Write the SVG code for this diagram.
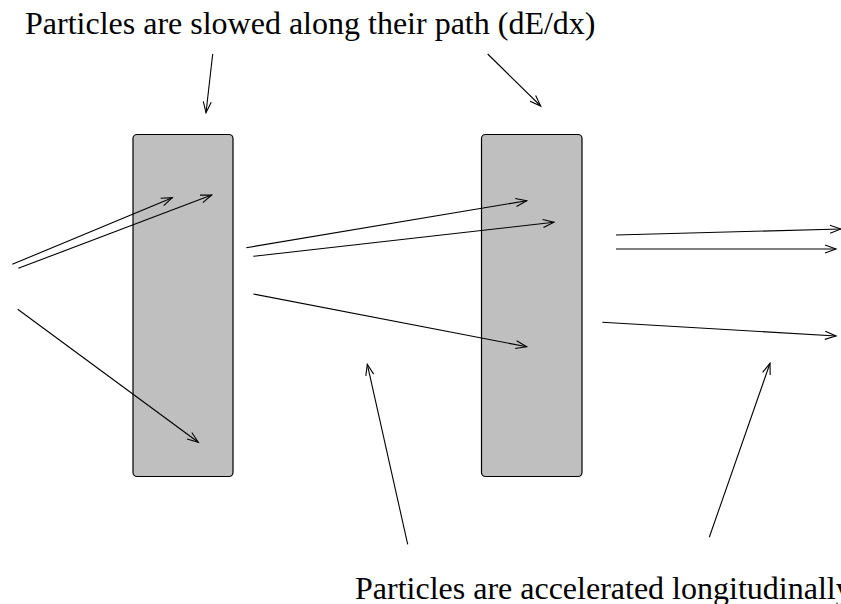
<svg xmlns="http://www.w3.org/2000/svg" width="841" height="604" viewBox="0 0 841 604">
<style>
.t{font-family:"Liberation Serif","Times New Roman",serif;font-size:32px;fill:#000}
.slab{fill:#bfbfbf;stroke:#000;stroke-width:1.2}
.c line{stroke:#000;stroke-width:1.1;fill:none;marker-end:url(#ah)}
</style>
<defs>
<marker id="ah" markerUnits="userSpaceOnUse" markerWidth="14" markerHeight="12" refX="12" refY="5" orient="auto" viewBox="0 0 14 10">
<path d="M1,1 L12,5 L1,9" fill="none" stroke="#000" stroke-width="1.1"/>
</marker>
</defs>
<rect width="841" height="604" fill="#fff"/>
<g id="slab1"><rect class="slab" x="133" y="134.5" width="100" height="342" rx="4"/></g>
<g id="slab2"><rect class="slab" x="481.5" y="134.5" width="100.5" height="342" rx="4"/></g>
<g id="label-top"><text class="t" x="25" y="34">Particles are slowed along their path (dE/dx)</text></g>
<g id="label-bottom"><text class="t" x="355" y="599">Particles are accelerated longitudinally</text></g>
<g id="connectors" class="c">
<line x1="12.3" y1="264.3" x2="172.3" y2="197.7"/>
<line x1="18.3" y1="268.3" x2="211.7" y2="195"/>
<line x1="17.7" y1="309.3" x2="198.3" y2="442.3"/>
<line x1="246.3" y1="247.7" x2="526.7" y2="200.7"/>
<line x1="253.3" y1="256.3" x2="554" y2="222.3"/>
<line x1="253.3" y1="294" x2="526.7" y2="346.7"/>
<line x1="616" y1="235" x2="841" y2="229"/>
<line x1="616" y1="249" x2="836" y2="249"/>
<line x1="602.3" y1="322.3" x2="836" y2="336"/>
<line x1="212.7" y1="54" x2="206" y2="112.7"/>
<line x1="487.7" y1="54" x2="540.7" y2="106"/>
<line x1="407.7" y1="544.3" x2="367.3" y2="364.3"/>
<line x1="709.3" y1="537.3" x2="770" y2="363.3"/>
</g>
</svg>
